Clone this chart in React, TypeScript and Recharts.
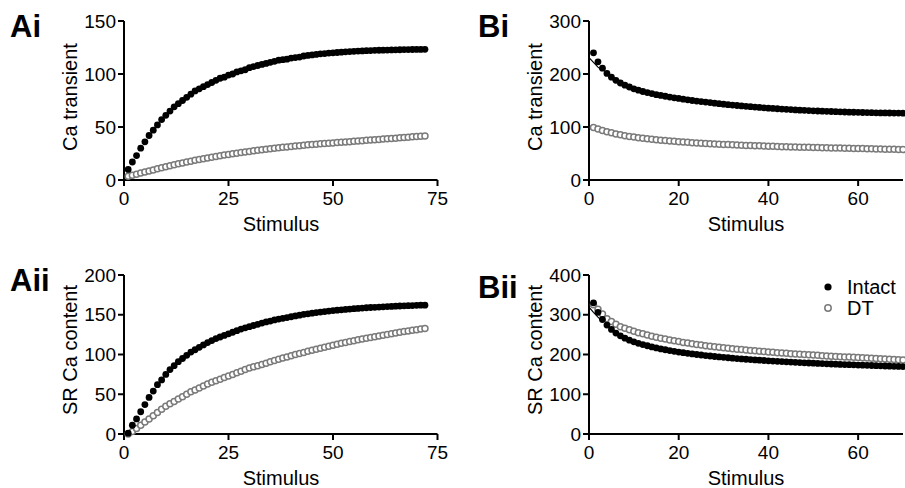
import React from 'react';
import { ScatterChart, Scatter, XAxis, YAxis } from 'recharts';

const FONT = '"Liberation Sans", Arial, Helvetica, sans-serif';

// Ai: Ca transient vs stimulus (1..72)
const aiIntact = [
  10, 17, 23, 30, 36, 42, 47, 52, 57, 61, 65, 69, 72, 75, 78, 81, 84, 86, 88, 90,
  92, 94, 96, 97, 99, 100, 102, 103, 104, 106, 107, 108, 109, 110, 111, 112, 113, 113.5, 114, 115,
  115.5, 116, 117, 117.5, 118, 118.5, 119, 119.3, 119.7, 120, 120.3, 120.6, 120.9, 121.2, 121.4, 121.6, 121.8, 122, 122.1, 122.3,
  122.4, 122.5, 122.6, 122.7, 122.8, 122.9, 123, 123, 123.1, 123.2, 123.2, 123.3,
];
const aiDT = [
  3.5, 4.5, 5.5, 6.5, 7.5, 8.5, 9.5, 10.5, 11.5, 12.5, 13.5, 14.5, 15.3, 16.1, 17, 17.8, 18.6, 19.4, 20.1, 20.8,
  21.5, 22.2, 22.9, 23.5, 24.1, 24.7, 25.3, 25.9, 26.5, 27, 27.5, 28, 28.5, 29, 29.5, 30, 30.4, 30.8, 31.2, 31.6,
  32, 32.4, 32.8, 33.2, 33.5, 33.8, 34.1, 34.4, 34.7, 35, 35.3, 35.6, 35.9, 36.2, 36.5, 36.8, 37.1, 37.4, 37.7, 38,
  38.3, 38.6, 38.9, 39.2, 39.5, 39.8, 40.1, 40.4, 40.7, 41, 41.3, 41.6,
];

// Aii: SR Ca content vs stimulus (1..72)
const aiiIntact = [
  1, 11, 19, 28, 37, 46, 54, 62, 68, 75, 81, 86, 91, 95, 99, 103, 106, 109, 112, 115,
  117.5, 120, 122, 124, 126, 128, 130, 132, 133.5, 135, 136.5, 138, 139.5, 141, 142, 143.5, 144.5, 145.5, 146.5, 147.5,
  148.5, 149.5, 150.5, 151.2, 152, 152.7, 153.4, 154, 154.6, 155.2, 155.7, 156.2, 156.7, 157.2, 157.6, 158, 158.4, 158.8, 159.1, 159.4,
  159.7, 160, 160.3, 160.5, 160.8, 161, 161.2, 161.4, 161.6, 161.8, 162, 162.1,
];
const aiiDT = [
  0, 3, 7, 11, 15, 19, 23, 27, 31, 35, 38, 41, 44, 47, 50, 53, 55.5, 58, 60.5, 63,
  65, 67, 69, 71, 73, 75, 77, 79, 81, 83, 84.5, 86, 87.5, 89, 91, 92.5, 94, 95.5, 97, 98.5,
  100, 101.3, 102.6, 104, 105.3, 106.6, 108, 109.2, 110.4, 111.6, 112.8, 114, 115.1, 116.2, 117.3, 118.4, 119.4, 120.4, 121.4, 122.4,
  123.4, 124.3, 125.2, 126.1, 127, 127.9, 128.8, 129.6, 130.4, 131.2, 132, 132.8,
];

// Bi: Ca transient vs stimulus (1..70)
const biIntact = [
  240, 223, 211, 201, 194, 188, 183, 179, 175.5, 172, 169.5, 167, 165, 163, 161, 159.5, 158, 156.5, 155, 154,
  152.5, 151.3, 150, 149, 148, 147, 146, 145, 144, 143, 142.2, 141.4, 140.6, 139.8, 139, 138.3, 137.6, 136.9, 136.2, 135.6,
  135, 134.4, 133.8, 133.3, 132.8, 132.3, 131.8, 131.4, 131, 130.6, 130.2, 129.8, 129.5, 129.2, 128.9, 128.6, 128.3, 128, 127.8, 127.6,
  127.4, 127.2, 127, 126.8, 126.6, 126.5, 126.4, 126.3, 126.2, 126.1,
];
const biDT = [
  99, 96, 93.5, 91, 89, 87, 85.3, 83.7, 82.2, 81, 79.8, 78.7, 77.7, 76.8, 76, 75.2, 74.4, 73.7, 73, 72.3,
  71.7, 71.1, 70.5, 70, 69.5, 69, 68.5, 68, 67.6, 67.2, 66.8, 66.4, 66, 65.6, 65.3, 65, 64.7, 64.4, 64.1, 63.8,
  63.5, 63.2, 62.9, 62.6, 62.4, 62.2, 62, 61.8, 61.6, 61.4, 61.2, 61, 60.8, 60.6, 60.4, 60.2, 60, 59.8, 59.6, 59.4,
  59.2, 59, 58.8, 58.6, 58.4, 58.2, 58, 57.8, 57.6, 57.4,
];
const biFitX = [0, 1, 2, 3];
const biFit = [231, 222, 213, 206];

// Bii: SR Ca content vs stimulus (1..70)
const biiIntact = [
  330, 306, 288, 274, 263, 254, 247, 241, 236, 232, 228, 225, 222, 219, 216.5, 214, 212, 210, 208, 206,
  204.5, 203, 201.5, 200, 198.7, 197.4, 196.2, 195, 193.9, 192.8, 191.8, 190.8, 189.8, 188.9, 188, 187.2, 186.4, 185.6, 184.9, 184.2,
  183.5, 182.8, 182.1, 181.5, 180.9, 180.3, 179.7, 179.1, 178.6, 178.1, 177.6, 177.1, 176.6, 176.1, 175.6, 175.1, 174.7, 174.3, 173.9, 173.5,
  173.1, 172.7, 172.3, 171.9, 171.5, 171.1, 170.7, 170.3, 169.9, 169.5,
];
const biiDT = [
  325, 314, 302, 290, 283, 276, 270, 266, 262, 258.5, 255, 252, 249, 246, 243.5, 241, 238.7, 236.5, 234.4, 232.4,
  230.5, 228.7, 227, 225.4, 223.8, 222.3, 220.9, 219.5, 218.2, 216.9, 215.7, 214.5, 213.4, 212.3, 211.2, 210.2, 209.2, 208.2, 207.3, 206.4,
  205.5, 204.6, 203.8, 203, 202.2, 201.4, 200.6, 199.9, 199.2, 198.5, 197.8, 197.1, 196.4, 195.8, 195.2, 194.6, 194, 193.4, 192.8, 192.2,
  191.6, 191, 190.4, 189.8, 189.2, 188.6, 188, 187.4, 186.8, 186.2,
];
const biiFitX = [0, 1, 2, 3];
const biiFit = [319, 306, 294, 283];

const aTicksX = [0, 25, 50, 75];
const bTicksX = [0, 20, 40, 60];
const aiTicksY = [0, 50, 100, 150];
const aiiTicksY = [0, 50, 100, 150, 200];
const biTicksY = [0, 100, 200, 300];
const biiTicksY = [0, 100, 200, 300, 400];

const toPoints = (ys: number[], xs?: number[]) =>
  ys.map((y, i) => ({ x: xs ? xs[i] : i + 1, y }));

const FilledDot = (props: any) => <circle cx={props.cx} cy={props.cy} r={3.4} fill="#000" />;
const OpenDot = (props: any) => (
  <circle cx={props.cx} cy={props.cy} r={3} fill="#fff" stroke="#7a7a7a" strokeWidth={1.5} />
);
const NoDot = () => <g />;

interface PanelProps {
  left: number;
  top: number;
  width: number;
  height: number;
  yAxisWidth: number;
  marginTop: number;
  marginRight: number;
  marginBottom: number;
  xDomain: [number, number];
  xTicks: number[];
  yDomain: [number, number];
  yTicks: number[];
  intact: { x: number; y: number }[];
  dt: { x: number; y: number }[];
  fit?: { x: number; y: number }[];
}

const axisStyle = { stroke: '#000', strokeWidth: 2 };
const tickStyle = { fill: '#000', fontSize: 19, fontFamily: FONT };

const Panel: React.FC<PanelProps> = (p) => (
  <div style={{ position: 'absolute', left: p.left, top: p.top }}>
    <ScatterChart
      width={p.width}
      height={p.height}
      margin={{ top: p.marginTop, right: p.marginRight, bottom: p.marginBottom, left: 0 }}
    >
      <XAxis
        type="number"
        dataKey="x"
        domain={p.xDomain}
        ticks={p.xTicks}
        interval={0}
        height={50}
        axisLine={axisStyle}
        tickLine={axisStyle}
        tickSize={6}
        tickMargin={6}
        tick={tickStyle}
      />
      <YAxis
        type="number"
        dataKey="y"
        domain={p.yDomain}
        ticks={p.yTicks}
        interval={0}
        width={p.yAxisWidth}
        axisLine={axisStyle}
        tickLine={axisStyle}
        tickSize={6}
        tickMargin={2}
        tick={tickStyle}
      />
      <Scatter data={p.dt} shape={OpenDot} isAnimationActive={false} />
      {p.fit && (
        <Scatter
          data={p.fit}
          shape={NoDot}
          line={{ stroke: '#000', strokeWidth: 1.2 }}
          isAnimationActive={false}
        />
      )}
      <Scatter data={p.intact} shape={FilledDot} isAnimationActive={false} />
    </ScatterChart>
  </div>
);

const PanelLetter = ({ text, left, top }: { text: string; left: number; top: number }) => (
  <div
    style={{
      position: 'absolute', left, top, fontFamily: FONT, fontWeight: 'bold',
      fontSize: 31, lineHeight: '31px', color: '#000',
    }}
  >
    {text}
  </div>
);

const YTitle = ({ text, cx, cy }: { text: string; cx: number; cy: number }) => (
  <div
    style={{
      position: 'absolute', left: cx, top: cy, fontFamily: FONT, fontSize: 20,
      lineHeight: '20px', whiteSpace: 'nowrap', color: '#000',
      transform: 'translate(-50%, -50%) rotate(-90deg)',
    }}
  >
    {text}
  </div>
);

const XTitle = ({ text, cx, top }: { text: string; cx: number; top: number }) => (
  <div
    style={{
      position: 'absolute', left: cx, top, fontFamily: FONT, fontSize: 20,
      lineHeight: '20px', whiteSpace: 'nowrap', color: '#000',
      transform: 'translateX(-50%)',
    }}
  >
    {text}
  </div>
);

const LegendRow = ({ label, open, top }: { label: string; open: boolean; top: number }) => (
  <div style={{ position: 'absolute', left: 822, top, height: 20, display: 'flex', alignItems: 'center' }}>
    <svg width={12} height={12} style={{ display: 'block' }}>
      {open ? (
        <circle cx={6} cy={6} r={3.2} fill="#fff" stroke="#7a7a7a" strokeWidth={1.5} />
      ) : (
        <circle cx={6} cy={6} r={3.6} fill="#000" />
      )}
    </svg>
    <span style={{ marginLeft: 13, fontFamily: FONT, fontSize: 20, lineHeight: '20px', color: '#000' }}>
      {label}
    </span>
  </div>
);

export default function App() {
  return (
    <div
      style={{
        position: 'absolute', left: 0, top: 0, width: 905, height: 488,
        background: '#fff', overflow: 'hidden',
      }}
    >
      <Panel
        left={0} top={0} width={450} height={244}
        yAxisWidth={124} marginTop={21} marginRight={12.5} marginBottom={14}
        xDomain={[0, 75]} xTicks={aTicksX} yDomain={[0, 150]} yTicks={aiTicksY}
        intact={toPoints(aiIntact)} dt={toPoints(aiDT)}
      />
      <Panel
        left={0} top={244} width={450} height={244}
        yAxisWidth={124} marginTop={31} marginRight={12.5} marginBottom={4}
        xDomain={[0, 75]} xTicks={aTicksX} yDomain={[0, 200]} yTicks={aiiTicksY}
        intact={toPoints(aiiIntact)} dt={toPoints(aiiDT)}
      />
      <Panel
        left={450} top={0} width={455} height={244}
        yAxisWidth={139} marginTop={21} marginRight={2} marginBottom={14}
        xDomain={[0, 70]} xTicks={bTicksX} yDomain={[0, 300]} yTicks={biTicksY}
        intact={toPoints(biIntact)} dt={toPoints(biDT)} fit={toPoints(biFit, biFitX)}
      />
      <Panel
        left={450} top={244} width={455} height={244}
        yAxisWidth={139} marginTop={31} marginRight={2} marginBottom={4}
        xDomain={[0, 70]} xTicks={bTicksX} yDomain={[0, 400]} yTicks={biiTicksY}
        intact={toPoints(biiIntact)} dt={toPoints(biiDT)} fit={toPoints(biiFit, biiFitX)}
      />

      <PanelLetter text="Ai" left={10} top={11} />
      <PanelLetter text="Aii" left={10} top={265} />
      <PanelLetter text="Bi" left={478} top={11} />
      <PanelLetter text="Bii" left={478} top={272} />

      <YTitle text="Ca transient" cx={70} cy={97} />
      <YTitle text="SR Ca content" cx={70} cy={350} />
      <YTitle text="Ca transient" cx={535} cy={97} />
      <YTitle text="SR Ca content" cx={535} cy={350} />

      <XTitle text="Stimulus" cx={281} top={214} />
      <XTitle text="Stimulus" cx={281} top={468} />
      <XTitle text="Stimulus" cx={746} top={214} />
      <XTitle text="Stimulus" cx={746} top={468} />

      <LegendRow label="Intact" open={false} top={277} />
      <LegendRow label="DT" open={true} top={298} />
    </div>
  );
}
